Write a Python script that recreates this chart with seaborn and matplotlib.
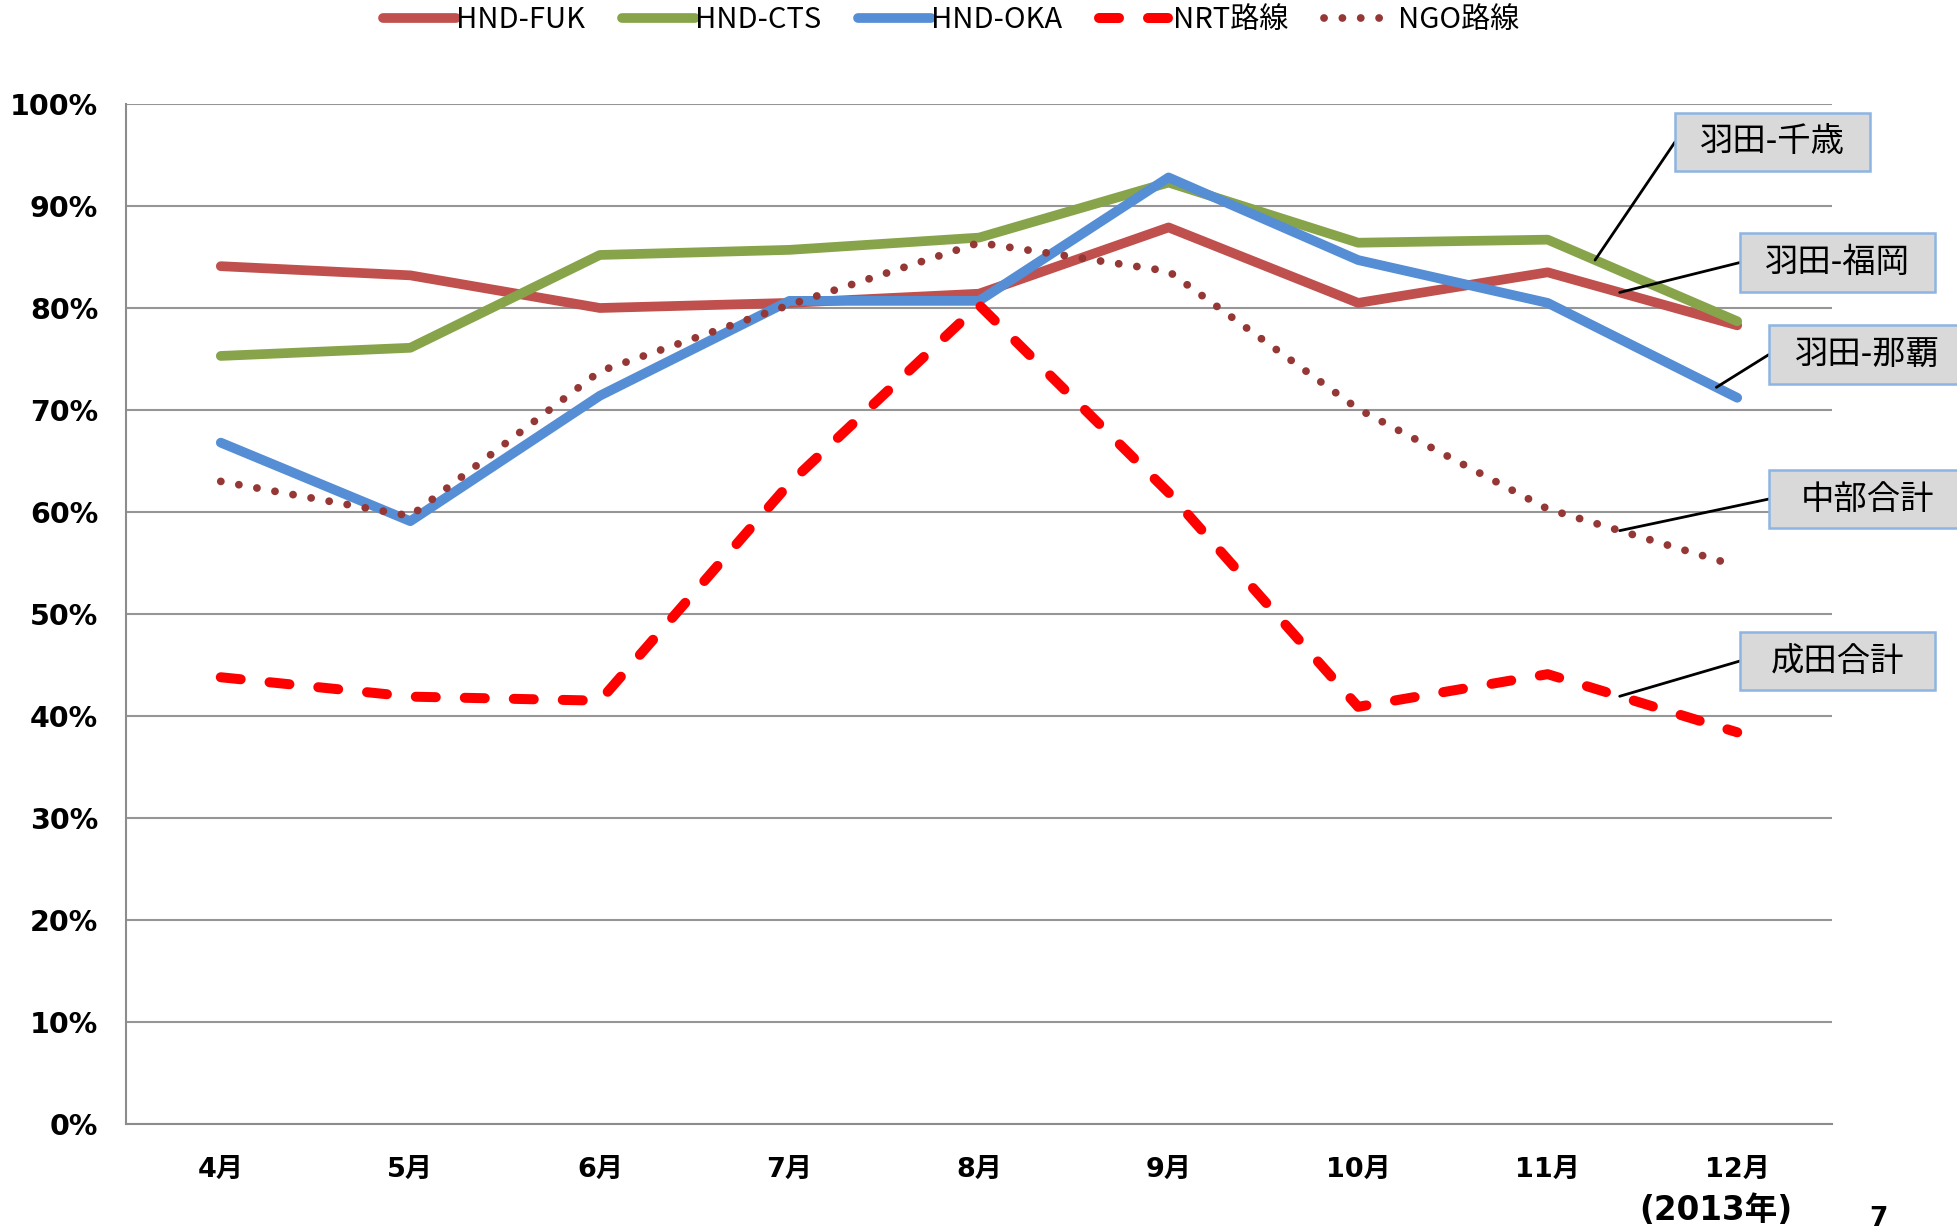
import matplotlib
matplotlib.use("Agg")
import matplotlib.pyplot as plt
import matplotlib.patches as patches
import pandas as pd
import seaborn as sns

# Data (load factor, %)
months = ["4月", "5月", "6月", "7月", "8月", "9月", "10月", "11月", "12月"]
hnd_fuk = [84.1, 83.2, 80.0, 80.5, 81.4, 87.9, 80.5, 83.5, 78.3]
hnd_cts = [75.3, 76.1, 85.2, 85.7, 86.9, 92.3, 86.4, 86.7, 78.7]
hnd_oka = [66.8, 59.1, 71.4, 80.7, 80.7, 92.8, 84.7, 80.5, 71.2]
nrt = [43.8, 41.9, 41.5, 62.8, 80.3, 61.9, 40.9, 44.1, 38.4]
ngo = [63.0, 59.6, 73.8, 80.3, 86.4, 83.6, 70.1, 60.3, 54.7]

series_names = ["HND-FUK", "HND-CTS", "HND-OKA", "NRT路線", "NGO路線"]
series_vals = [hnd_fuk, hnd_cts, hnd_oka, nrt, ngo]
colors = ["#C0504D", "#87A44A", "#558ED5", "#FF0000", "#953735"]

# callout labels: (text, series index, x position between categories)
callouts = [("羽田-千歳", 1, 7.25), ("羽田-福岡", 0, 7.38), ("羽田-那覇", 2, 7.89),
            ("中部合計", 4, 7.38), ("成田合計", 3, 7.38)]

sns.set_style("white")
plt.rcParams["font.family"] = ["DejaVu Sans", "Noto Sans CJK JP"]
plt.rcParams["text.color"] = "black"
plt.rcParams["xtick.labelcolor"] = "black"
plt.rcParams["ytick.labelcolor"] = "black"

W, H = 1957, 1230
fig = plt.figure(figsize=(W / 100, H / 100), dpi=100)
ax = fig.add_axes([126 / W, 1 - 1124 / H, (1832 - 126) / W, (1124 - 104) / H])

x = list(range(len(months)))
for i, (name, vals) in enumerate(zip(series_names, series_vals)):
    df = pd.DataFrame({"x": x, "y": vals})
    if name.startswith("NRT"):
        sns.lineplot(data=df, x="x", y="y", ax=ax, color=colors[i], lw=7.2,
                     label=name, zorder=3)
        line = ax.lines[-1]
        line.set_dashes((2.0, 2.9))
        line.set_dash_capstyle("round")
    elif name.startswith("NGO"):
        sns.lineplot(data=df, x="x", y="y", ax=ax, color=colors[i], lw=5.6,
                     label=name, zorder=4)
        line = ax.lines[-1]
        line.set_dashes((0.01, 2.35))
        line.set_dash_capstyle("round")
    else:
        sns.lineplot(data=df, x="x", y="y", ax=ax, color=colors[i], lw=7.0,
                     label=name, zorder=3)
        line = ax.lines[-1]
        line.set_solid_capstyle("round")
        line.set_solid_joinstyle("round")

ax.set_xlim(-0.5, len(months) - 0.5)
ax.set_ylim(0, 100)
ax.set_yticks(range(0, 101, 10))
ax.set_yticklabels([f"{v}%" for v in range(0, 101, 10)], fontsize=20.5, fontweight="bold")
ax.set_xticks(x)
ax.set_xticklabels(months, fontsize=19.5, fontweight="bold")
ax.set_xticks([v - 0.5 for v in range(len(months) + 1)], minor=True)
ax.tick_params(axis="x", which="major", length=0, pad=24)
ax.tick_params(axis="x", which="minor", length=8, width=1.5, color="#8C8C8C", direction="out")
ax.tick_params(axis="y", length=7, width=1.5, color="#8C8C8C", pad=13, direction="out")
ax.set_xlabel("")
ax.set_ylabel("")
ax.yaxis.grid(True, color="#969696", lw=1.5)
ax.set_axisbelow(True)
for s in ["top", "right"]:
    ax.spines[s].set_visible(False)
for s in ["left", "bottom"]:
    ax.spines[s].set_color("#8C8C8C")
    ax.spines[s].set_linewidth(1.5)

# legend on top
handles, labels = ax.get_legend_handles_labels()
ax.get_legend().remove()
fig.legend(handles, labels, loc="center", bbox_to_anchor=(951 / W, 1 - 20 / H), ncol=5,
           frameon=False, handlelength=2.5, handletextpad=0.02, columnspacing=1.25,
           prop={"family": ["Noto Sans CJK JP"], "size": 21})

# callout boxes (figure pixels, top-origin)
boxes = {
    "羽田-千歳": (1675, 113, 1870, 171),
    "羽田-福岡": (1740, 233, 1935, 292),
    "羽田-那覇": (1769, 325, 1975, 384),
    "中部合計": (1769, 470, 1975, 528),
    "成田合計": (1740, 632, 1935, 690),
}
for text, si, xp in callouts:
    x0, y0, x1, y1 = boxes[text]
    rect = patches.Rectangle((x0 / W, 1 - y1 / H), (x1 - x0) / W, (y1 - y0) / H,
                             transform=fig.transFigure, facecolor="#D9D9D9",
                             edgecolor="#8DB4E2", lw=1.8, zorder=5)
    fig.patches.append(rect)
    tx = (x0 + x1) / 2 if x1 <= W else (x0 + 1965) / 2
    fig.text(tx / W, 1 - (y0 + y1) / 2 / H, text, ha="center", va="center",
             fontsize=24, family=["Noto Sans CJK JP"], zorder=6)
    vals = series_vals[si]
    k = int(xp)
    yp = vals[k] + (xp - k) * (vals[k + 1] - vals[k])
    ax.annotate("", xy=(xp, yp), xycoords="data",
                xytext=(x0 / W, 1 - (y0 + y1) / 2 / H), textcoords="figure fraction",
                arrowprops=dict(arrowstyle="-", color="black", lw=2,
                                shrinkA=0, shrinkB=0), zorder=6)

fig.text(1716 / W, 1 - 1211 / H, "(2013年)", ha="center", va="center",
         fontsize=23.5, fontweight="bold")
fig.text(1878 / W, 1 - 1219 / H, "7", ha="center", va="center",
         fontsize=19, fontweight="bold")

fig.savefig("out.png", dpi=100)
